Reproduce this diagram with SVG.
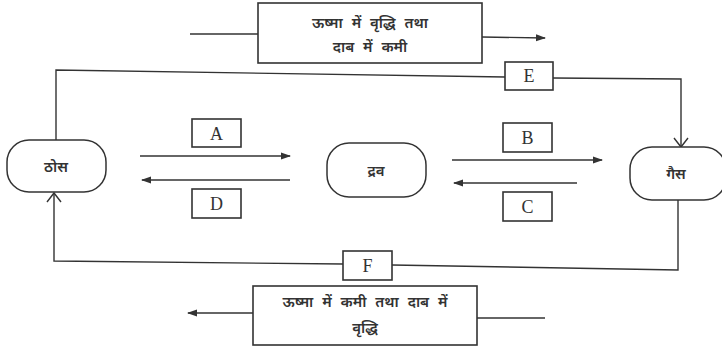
<svg xmlns="http://www.w3.org/2000/svg" width="722" height="348" viewBox="0 0 722 348">
<style>
.ln{fill:none;stroke:#333;stroke-width:1.4}
.bx{fill:#fff;stroke:#333;stroke-width:1.6}
.nd{fill:#fff;stroke:#333;stroke-width:1.5}
.lt{font-family:"Liberation Serif",serif;font-size:18px;fill:#333;text-anchor:middle}
.hi{font-family:"Noto Sans","Noto Sans Devanagari",sans-serif;font-size:15px;font-weight:600;fill:#333;text-anchor:middle}
.hw{word-spacing:5px}
</style>
<defs>
<marker id="ah" markerWidth="10" markerHeight="8" refX="9" refY="4" orient="auto" markerUnits="userSpaceOnUse">
<path d="M0,0.5 L10,4 L0,7.5 Z" fill="#333"/>
</marker>
</defs>
<rect width="722" height="348" fill="#fff"/>
<g id="connectors">
<path class="ln" d="M190,34 L258,34"/>
<path class="ln" d="M482,37 L545,38" marker-end="url(#ah)"/>
<path class="ln" d="M56,140 L56,70 L505,77"/>
<path class="ln" d="M553,78 L681,79 L681,147"/>
<path class="ln" d="M674,138 L681,147 L688,138"/>
<path class="ln" d="M678,200 L678,270 L392,265"/>
<path class="ln" d="M343,264 L54,261 L54,193"/>
<path class="ln" d="M47,202 L54,193 L61,202"/>
<path class="ln" d="M545,318 L477,318"/>
<path class="ln" d="M253,313 L188,313" marker-end="url(#ah)"/>
<path class="ln" d="M140,156 L290,156" marker-end="url(#ah)"/>
<path class="ln" d="M290,180 L142,180" marker-end="url(#ah)"/>
<path class="ln" d="M452,160 L602,160" marker-end="url(#ah)"/>
<path class="ln" d="M577,183 L454,183" marker-end="url(#ah)"/>
</g>
<g id="topbox">
<rect class="bx" x="258" y="3" width="224" height="60"/>
<text class="hi hw" x="370" y="28">ऊष्मा में वृद्धि तथा</text>
<text class="hi hw" x="370" y="52">दाब में कमी</text>
</g>
<g id="bottombox">
<rect class="bx" x="253" y="286" width="224" height="59"/>
<text class="hi hw" x="365" y="307">ऊष्मा में कमी तथा दाब में</text>
<text class="hi hw" x="365" y="333">वृद्धि</text>
</g>
<g id="node-solid">
<rect class="nd" x="7" y="140" width="99" height="52" rx="22"/>
<text class="hi" x="56" y="172">ठोस</text>
</g>
<g id="node-liquid">
<rect class="nd" x="327" y="143" width="99" height="54" rx="22"/>
<text class="hi" x="376" y="176">द्रव</text>
</g>
<g id="node-gas">
<rect class="nd" x="630" y="147" width="96" height="53" rx="22"/>
<text class="hi" x="676" y="179">गैस</text>
</g>
<g id="label-A"><rect class="bx" x="192" y="119" width="49" height="28"/><text class="lt" x="216.5" y="140">A</text></g>
<g id="label-D"><rect class="bx" x="192" y="189" width="49" height="29"/><text class="lt" x="216.5" y="210">D</text></g>
<g id="label-B"><rect class="bx" x="503" y="123" width="49" height="29"/><text class="lt" x="527.5" y="144">B</text></g>
<g id="label-C"><rect class="bx" x="503" y="192" width="49" height="29"/><text class="lt" x="527.5" y="213">C</text></g>
<g id="label-E"><rect class="bx" x="505" y="62" width="48" height="28"/><text class="lt" x="529" y="82">E</text></g>
<g id="label-F"><rect class="bx" x="343" y="251" width="49" height="29"/><text class="lt" x="367.5" y="272">F</text></g>
</svg>
